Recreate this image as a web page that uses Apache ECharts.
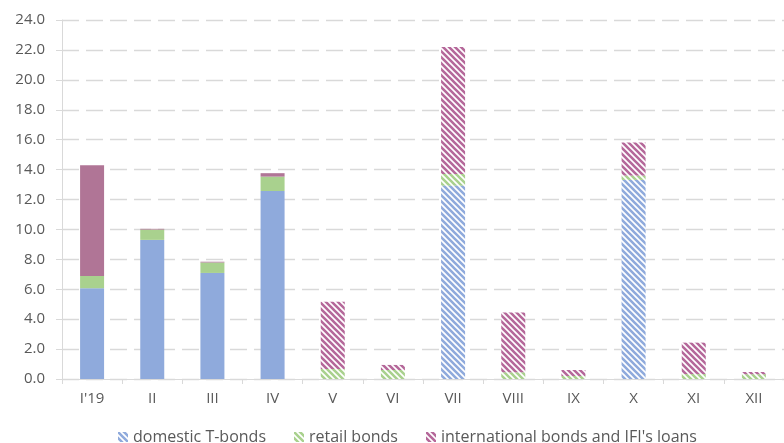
<!DOCTYPE html>
<html>
<head>
<meta charset="utf-8">
<script src="https://cdn.jsdelivr.net/npm/echarts@6/dist/echarts.min.js"></script>
<style>
  html, body { margin: 0; padding: 0; background: #fff; }
  #chart { width: 784px; height: 443px; }
</style>
</head>
<body>
<div id="chart"></div>
<script>
// Monthly borrowing by instrument, bn
const months = ["I'19", "II", "III", "IV", "V", "VI", "VII", "VIII", "IX", "X", "XI", "XII"];
const domesticTBonds = [6.07, 9.30, 7.09, 12.57, 0, 0, 12.93, 0, 0, 13.31, 0, 0];
const retailBonds = [0.82, 0.69, 0.70, 0.96, 0.67, 0.60, 0.78, 0.45, 0.20, 0.29, 0.33, 0.32];
const internationalBonds = [7.40, 0.05, 0.05, 0.23, 4.50, 0.34, 8.48, 3.99, 0.40, 2.21, 2.10, 0.15];
const yTicks = [0, 2, 4, 6, 8, 10, 12, 14, 16, 18, 20, 22, 24];
// months with actual (solid) figures; the rest are plans (hatched)
const solidCount = 4;

const FONT = '"Open Sans", sans-serif';
const TEXT = '#595959';
const LINE = '#D9D9D9';

function hatch(color) {
  const s = 6;
  const c = document.createElement('canvas');
  c.width = s; c.height = s;
  const g = c.getContext('2d');
  g.fillStyle = '#ffffff';
  g.fillRect(0, 0, s, s);
  g.strokeStyle = color;
  g.lineWidth = 2.6;
  g.beginPath();
  for (const k of [-s, 0, s]) {
    g.moveTo(k - 1, -1);
    g.lineTo(k + s + 1, s + 1);
  }
  g.stroke();
  return { image: c, repeat: 'repeat' };
}

function makeSeries(name, values, solid, striped) {
  return {
    name: name,
    type: 'bar',
    stack: 'total',
    barWidth: 24,
    itemStyle: { color: hatch(striped) },
    emphasis: { disabled: true },
    data: values.map((v, i) => i < solidCount
      ? { value: v, itemStyle: { color: solid } }
      : { value: v })
  };
}

const chart = echarts.init(document.getElementById('chart'), null, { renderer: 'canvas' });
chart.setOption({
  animation: false,
  backgroundColor: '#ffffff',
  textStyle: { fontFamily: FONT },
  grid: { left: 62, right: -11, top: 20, bottom: 64, containLabel: false },
  legend: {
    left: 113,
    top: 424,
    itemWidth: 10,
    itemHeight: 10,
    itemGap: 28,
    icon: 'rect',
    textStyle: { color: TEXT, fontSize: 16, fontFamily: FONT, padding: [0, 0, 0, 0] },
    data: ['domestic T-bonds', 'retail bonds', "international bonds and IFI's loans"]
  },
  xAxis: {
    type: 'category',
    data: months,
    axisLine: { lineStyle: { color: LINE, width: 1 } },
    axisTick: { show: true, length: 5, lineStyle: { color: LINE } },
    axisLabel: { color: TEXT, fontSize: 15, fontFamily: FONT, margin: 12 },
    splitLine: { show: false }
  },
  yAxis: {
    type: 'value',
    min: yTicks[0],
    max: yTicks[yTicks.length - 1],
    interval: 2,
    axisLine: { show: true, lineStyle: { color: LINE, width: 1 } },
    axisTick: { show: true, length: 6, lineStyle: { color: LINE } },
    axisLabel: { color: TEXT, fontSize: 15, fontFamily: FONT, margin: 17,
      formatter: v => v.toFixed(1) },
    splitLine: { show: true, lineStyle: { color: LINE, width: 1.4, type: [17, 7] } }
  },
  series: [
    makeSeries('domestic T-bonds', domesticTBonds, '#8FAADC', '#8FAADC'),
    makeSeries('retail bonds', retailBonds, '#A9D18E', '#A9D18E'),
    makeSeries("international bonds and IFI's loans", internationalBonds, '#B07596', '#B5689A')
  ]
});
</script>
</body>
</html>
